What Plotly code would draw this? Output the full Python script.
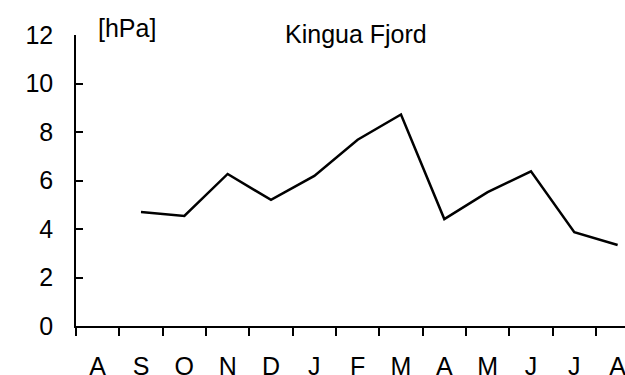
import plotly.graph_objects as go

# Monthly pressure series, Aug -> Aug
months = ["A", "S", "O", "N", "D", "J", "F", "M", "A", "M", "J", "J", "A"]
pressure = [None, 4.70, 4.54, 6.27, 5.20, 6.19, 7.68, 8.72, 4.41, 5.52, 6.38, 3.87, 3.34]
y_ticks = [0, 2, 4, 6, 8, 10, 12]

x_pos = list(range(len(months)))
FONT = "Liberation Sans, Arial, sans-serif"
FS = 25

fig = go.Figure()
fig.add_trace(go.Scatter(
    x=x_pos, y=pressure, mode="lines",
    line=dict(color="black", width=2.5),
    connectgaps=False, hoverinfo="skip", showlegend=False,
))

fig.update_layout(
    width=625, height=375,
    margin=dict(l=76, r=0, t=35, b=49),
    paper_bgcolor="white", plot_bgcolor="white",
    font=dict(family=FONT, size=FS, color="black"),
    xaxis=dict(
        range=[-0.5, 12.17],
        automargin=False,
        tickmode="array", tickvals=x_pos, ticktext=months,
        ticks="outside", ticklen=17, tickcolor="rgba(0,0,0,0)",
        ticklabeloverflow="allow",
        showline=True, linecolor="black", linewidth=1.5,
        showgrid=False, zeroline=False,
        tickfont=dict(size=FS),
        minor=dict(ticks="outside", ticklen=8, tickwidth=1.5, tickcolor="black",
                   tickmode="linear", tick0=-0.5, dtick=1, showgrid=False),
    ),
    yaxis=dict(
        range=[0, 12],
        automargin=False,
        tickmode="array", tickvals=y_ticks,
        ticks="inside", ticklen=7, tickwidth=1.5, tickcolor="black",
        ticklabelstandoff=16,
        showline=True, linecolor="black", linewidth=1.5,
        showgrid=False, zeroline=False,
        tickfont=dict(size=FS),
    ),
    annotations=[
        dict(text="[hPa]", xref="paper", yref="paper", x=0.036, y=1.025,
             xanchor="left", yanchor="middle", showarrow=False,
             font=dict(size=FS)),
        dict(text="Kingua Fjord", xref="paper", yref="paper", x=0.51, y=1.005,
             xanchor="center", yanchor="middle", showarrow=False,
             font=dict(size=FS)),
    ],
)

fig.write_html("out.html")
